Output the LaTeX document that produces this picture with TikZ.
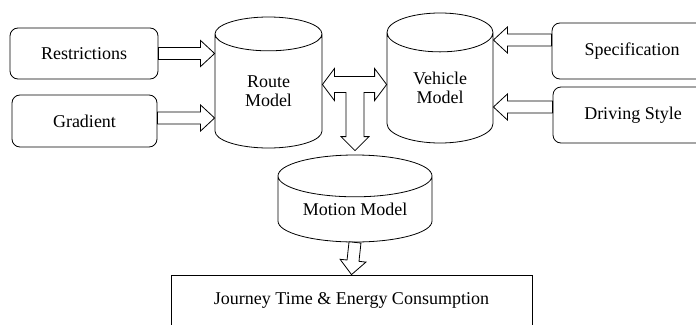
\documentclass[tikz,border=0pt]{standalone}
\usepackage{fontspec}
\setmainfont{Liberation Serif}
\usetikzlibrary{calc,shapes.geometric}
\newcommand*{\shaftw}{6pt}
\newcommand*{\headw }{13pt}
\newcommand*{\headl }{14pt}
\newcommand*{\lw    }{0.8pt}
\tikzset{
	box/.style n args={2}{
		draw,
		rounded corners = 8pt,
		minimum width = #1,
		minimum height = #2,
		line width = \lw,
		inner sep = 0pt,
		},
	drum/.style n args={3}{
		draw,
		cylinder,
		shape border rotate = 90,
		aspect = #3,
		minimum width = #1,
		minimum height = #2,
		line width = \lw,
		align = center,
		inner sep = 0pt,
		anchor = shape center,
		},
	fat/.style={
		draw,
		fill = white,
		line width = \lw,
		to path={
			let \p1=(\tikztostart), \p2=(\tikztotarget), \p4=($(\p2)!\headl!(\p1)$) in
			($(\p1)!\shaftw!90:(\p2)$) -- ($(\p4)!\shaftw!90:(\p2)$) -- ($(\p4)!\headw!90:(\p2)$) -- (\p2)
			-- ($(\p4)!\headw!-90:(\p2)$) -- ($(\p4)!\shaftw!-90:(\p2)$) -- ($(\p1)!\shaftw!-90:(\p2)$) -- cycle
			},
		}
	}
\begin{document}
\begin{tikzpicture}[x=1pt, y=1pt, font=\fontsize{18}{19}\selectfont]
	\useasboundingbox (0,0) rectangle (696,-324);
	\node (restr) [box={148pt}{51pt}] at (84,-53.5) {Restrictions};
	\node (grad)  [box={145pt}{52pt}] at (84.5,-121) {Gradient};
	\node (spec)  [box={160pt}{56pt}] at (632,-51) {Specification};
	\node (drive) [box={160pt}{56pt}] at (633,-115) {Driving Style};
	\node (route)   [drum={107pt}{131pt}{0.72}] at (268.5,-82.5) {Route\\Model};
	\node (vehicle) [drum={106pt}{130pt}{0.72}] at (440,-78) {Vehicle\\Model};
	\node (motion)  [drum={154pt}{87pt}{0.4}] at (355,-198.5) {Motion Model};
	\node (journey) [draw, line width=\lw, minimum width=361pt, minimum height=50pt] at (351.5,-300) {Journey Time \& Energy Consumption};
	\path [fat] (restr.east) to (restr.east -| route.west);
	\path [fat] ([yshift=3pt]grad.east) to ([yshift=3pt]grad.east -| route.west);
	\path [fat] ([yshift=11pt]spec.west) to ([yshift=11pt]spec.west -| vehicle.east);
	\path [fat] ([yshift=8pt]drive.west) to ([yshift=8pt]drive.west -| vehicle.east);
	\path [fat] (motion.south) to (journey.north);
	\coordinate (lnk) at ([yshift=5pt]$(route.east)!0.5!(vehicle.west)$);
	\draw [fill=white, line width=\lw]
		let \p1=(route.east), \p2=(vehicle.west), \p3=(lnk), \p4=(motion.north) in
		(\x1,\y3) -- (\x1+12pt,\y3+16pt) -- (\x1+12pt,\y3+8pt) -- (\x2-12pt,\y3+8pt) -- (\x2-12pt,\y3+16pt)
		-- (\x2,\y3) -- (\x2-12pt,\y3-16pt) -- (\x2-12pt,\y3-8pt) -- (\x4+9pt,\y3-8pt) -- (\x4+9pt,\y4+18pt)
		-- (\x4+14pt,\y4+18pt) -- (\x4,\y4+4pt) -- (\x4-14pt,\y4+18pt) -- (\x4-9pt,\y4+18pt) -- (\x4-9pt,\y3-8pt)
		-- (\x1+12pt,\y3-8pt) -- (\x1+12pt,\y3-16pt) -- cycle;
\end{tikzpicture}
\end{document}
